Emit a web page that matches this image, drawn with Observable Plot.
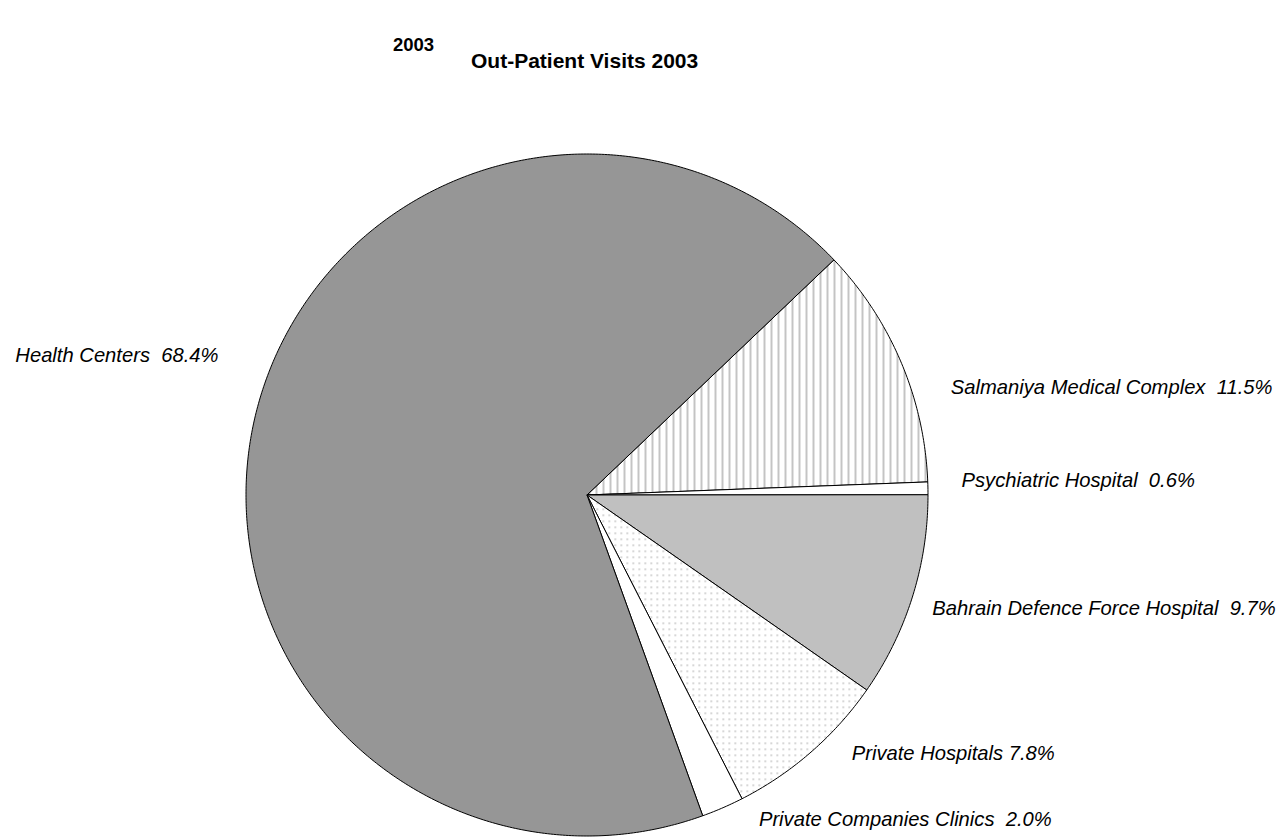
<!DOCTYPE html>
<html>
<head>
<meta charset="utf-8">
<script src="https://cdn.jsdelivr.net/npm/d3@7"></script>
<script src="https://cdn.jsdelivr.net/npm/@observablehq/plot@0.6"></script>
<style>
  body { margin: 0; background: #fff; font-family: "Liberation Sans", Arial, sans-serif; }
  #head { position: relative; width: 1280px; height: 80px; }
  .t { position: absolute; font-weight: bold; line-height: 1; white-space: pre; color: #000; }
  #chart svg text { white-space: pre; }
</style>
</head>
<body>
<svg width="0" height="0" style="position:absolute">
  <defs>
    <pattern id="vlines" width="7" height="7" patternUnits="userSpaceOnUse">
      <rect width="7" height="7" fill="#fff"/>
      <rect x="0" y="0" width="2" height="7" fill="#c4c4c4"/>
    </pattern>
    <pattern id="dots" width="6" height="6" patternUnits="userSpaceOnUse">
      <rect width="6" height="6" fill="#fff"/>
      <rect x="2" y="2" width="1.5" height="1.5" fill="#b8b8b8"/>
    </pattern>
  </defs>
</svg>
<div id="head">
  <div class="t" style="left:393px;top:36px;font-size:18.5px">2003</div>
  <div class="t" style="left:471px;top:50px;font-size:21px">Out-Patient Visits 2003</div>
</div>
<div id="chart"></div>
<script>
// ---- data (clockwise order from the first slice) ----
const categories = [
  "Salmaniya Medical Complex",
  "Psychiatric Hospital",
  "Bahrain Defence Force Hospital",
  "Private Hospitals",
  "Private Companies Clinics",
  "Health Centers"
];
const shares = [11.5, 0.6, 9.7, 7.8, 2.0, 68.4];
const labelTexts = [
  "Salmaniya Medical Complex  11.5%",
  "Psychiatric Hospital  0.6%",
  "Bahrain Defence Force Hospital  9.7%",
  "Private Hospitals 7.8%",
  "Private Companies Clinics  2.0%",
  "Health Centers  68.4%"
];
const fills = ["url(#vlines)", "#ffffff", "#c0c0c0", "url(#dots)", "#ffffff", "#969696"];

// ---- layout (pie rotation and label placement around each slice's mid-angle) ----
const startAngle = 43.6;   // degrees, math convention
const labelTurn = [-6.5, 1.1, -0.8, 4.6, 4.5, -7.5];        // degrees from mid-angle
const labelRadius = [1.112, 1.099, 1.066, 1.085, 1.076, 1.156];
const total = d3.sum(shares);

const slicePoints = [];
const labels = [];
let a = startAngle;
categories.forEach((name, i) => {
  const sweep = shares[i] / total * 360;
  const a0 = a, a1 = a - sweep;
  slicePoints.push({name, fill: fills[i], x: 0, y: 0});
  const n = Math.max(2, Math.ceil(sweep / 0.5));
  for (let k = 0; k <= n; k++) {
    const t = (a0 + (a1 - a0) * k / n) * Math.PI / 180;
    slicePoints.push({name, fill: fills[i], x: Math.cos(t), y: Math.sin(t)});
  }
  slicePoints.push({name, fill: fills[i], x: 0, y: 0});
  const mid = ((a0 + a1) / 2 + labelTurn[i]) * Math.PI / 180;
  labels.push({
    text: labelTexts[i],
    x: labelRadius[i] * Math.cos(mid),
    y: labelRadius[i] * Math.sin(mid),
    anchor: Math.cos(mid) >= 0 ? "start" : "end"
  });
  a = a1;
});

const chart = Plot.plot({
  width: 1280,
  height: 757,
  marginLeft: 245.5,
  marginRight: 352.5,
  marginTop: 73.5,
  marginBottom: 1.5,
  x: {domain: [-1, 1], axis: null},
  y: {domain: [-1, 1], axis: null},
  color: {type: "identity"},
  style: {fontFamily: "'Liberation Sans', Arial, sans-serif", background: "#fff", overflow: "visible"},
  marks: [
    Plot.line(slicePoints, {x: "x", y: "y", z: "name", fill: "fill", stroke: "#000", strokeWidth: 1, strokeLinejoin: "round", curve: "linear"}),
    Plot.text(labels.filter(d => d.anchor === "start"), {x: "x", y: "y", text: "text", textAnchor: "start", fontSize: 20.2, fontStyle: "italic", fill: "#000"}),
    Plot.text(labels.filter(d => d.anchor === "end"), {x: "x", y: "y", text: "text", textAnchor: "end", fontSize: 20.2, fontStyle: "italic", fill: "#000"})
  ]
});
document.getElementById("chart").appendChild(chart);
</script>
</body>
</html>
